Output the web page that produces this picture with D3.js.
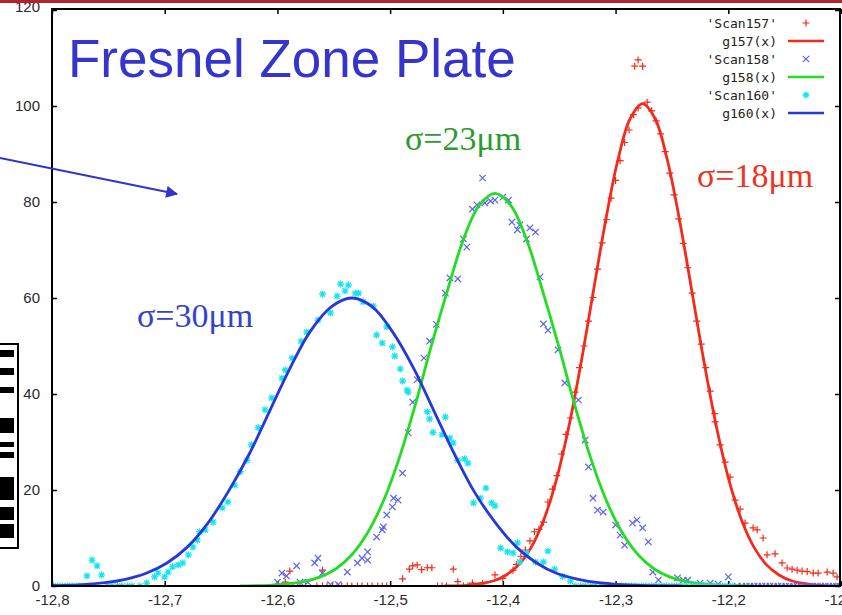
<!DOCTYPE html>
<html>
<head>
<meta charset="utf-8">
<title>Fresnel Zone Plate scans</title>
<script src="https://d3js.org/d3.v7.min.js"></script>
<style>
  body { margin: 0; background: #fff; }
  svg { display: block; }
  .tick text { font-family: 'Liberation Sans', Arial, sans-serif; font-size: 15px; fill: #2a2a2a; }
  .legend text { font-family: 'DejaVu Sans Mono', monospace; font-size: 13px; fill: #222; }
</style>
</head>
<body>
<div id="chart"></div>
<script>
// ---- data ----
const xTicks = [-12.8, -12.7, -12.6, -12.5, -12.4, -12.3, -12.2, -12.1];
const yTicks = [0, 20, 40, 60, 80, 100, 120];

const legendLabels = ["'Scan157'", "g157(x)", "'Scan158'", "g158(x)", "'Scan160'", "g160(x)"];
const sigmaLabels = ["σ=18μm", "σ=23μm", "σ=30μm"];

// Scan157 (red +)
const scan157 = [
  [-12.600,0],[-12.596,0],[-12.592,0],[-12.586,0],[-12.580,0],[-12.575,0],[-12.565,0],[-12.560,0],
  [-12.556,0],[-12.551,0],[-12.547,0],[-12.543,0],[-12.538,0],[-12.534,0],[-12.529,0],[-12.525,0],
  [-12.520,0],[-12.516,0],[-12.511,0],[-12.507,0],[-12.503,0],[-12.458,0],[-12.454,0],[-12.450,0],
  [-12.435,0],[-12.431,0],[-12.426,0],[-12.422,0],[-12.418,0],
  [-12.593,0.8],[-12.589,3.1],[-12.560,3.3],[-12.489,1.5],[-12.483,3.5],[-12.480,4.2],[-12.476,4.4],
  [-12.472,3.4],[-12.467,3.8],[-12.463,3.8],[-12.444,3.5],[-12.440,0.9],[-12.427,0.6],[-12.418,0.5],
  [-12.407,2.3],[-12.400,1.6],[-12.391,3.3],
  [-12.388,4.5],[-12.384,6.2],[-12.380,7.5],[-12.376,9.4],[-12.372,11.3],[-12.368,11.8],[-12.364,13.3],
  [-12.360,17.5],[-12.356,20.2],[-12.352,23.0],[-12.348,27.5],[-12.344,31.6],[-12.340,35.0],[-12.336,40.4],
  [-12.332,45.5],[-12.328,50.0],[-12.324,55.2],[-12.320,60.1],[-12.316,66.0],[-12.312,71.5],[-12.308,76.3],
  [-12.304,80.8],[-12.300,84.5],[-12.296,88.6],[-12.292,92.4],[-12.288,95.0],[-12.284,98.2],[-12.280,99.6],
  [-12.280,109.6],[-12.283,108.3],[-12.276,108.3],
  [-12.272,100.8],[-12.268,99.0],[-12.264,96.9],[-12.260,94.2],[-12.256,90.5],[-12.252,86.0],[-12.248,81.5],
  [-12.244,76.5],[-12.240,71.4],[-12.236,66.3],[-12.232,61.0],[-12.228,55.2],[-12.224,50.4],[-12.220,45.5],
  [-12.216,40.6],[-12.212,35.9],
  [-12.2117,34.2],[-12.2073,29.4],[-12.2028,25.8],[-12.1984,22.7],[-12.194,17.9],[-12.1895,16.0],
  [-12.1851,13.1],[-12.178,12.1],[-12.1744,11.7],[-12.1691,10.0],[-12.1656,6.5],[-12.1585,6.7],
  [-12.1523,4.8],[-12.1478,3.75],[-12.1434,3.5],[-12.1389,3.3],[-12.1345,3.1],[-12.130,3.0],
  [-12.1247,2.7],[-12.1203,2.7],[-12.1123,2.9],[-12.107,2.7],[-12.1035,1.9]
];

// Scan158 (blue x)
const scan158 = [
  [-12.600,0.8],[-12.596,2.7],[-12.592,2.1],[-12.583,4.2],[-12.580,0.8],[-12.573,0.8],[-12.567,4.8],
  [-12.564,5.8],[-12.560,2.7],[-12.553,0.3],[-12.546,0.3],[-12.538,2.9],[-12.529,4.8],[-12.525,5.8],
  [-12.520,7.1],[-12.520,5.4],[-12.512,10.2],[-12.507,11.7],[-12.506,12.3],[-12.503,14.8],[-12.498,16.5],
  [-12.497,18.3],[-12.493,17.9],[-12.489,23.5],[-12.484,31.9],[-12.480,38.3],[-12.476,43.0],[-12.470,47.5],
  [-12.465,51.0],[-12.459,54.5],[-12.451,61.0],[-12.447,64.2],[-12.440,64.0],[-12.435,72.3],[-12.432,70.6],
  [-12.427,78.5],[-12.423,79.4],[-12.418,85.0],[-12.416,79.8],[-12.411,80.2],[-12.407,80.4],[-12.400,81.0],
  [-12.395,80.4],[-12.392,75.8],[-12.387,74.2],[-12.385,75.2],[-12.379,72.3],[-12.376,74.6],[-12.371,73.7],
  [-12.367,64.4],[-12.364,54.6],[-12.360,53.3],[-12.351,49.2],[-12.345,42.3],[-12.333,38.75],[-12.327,30.4],
  [-12.324,24.8],[-12.320,18.3],[-12.316,15.8],[-12.311,15.4],[-12.300,12.7],[-12.296,10.6],[-12.292,8.5],
  [-12.285,13.1],[-12.281,13.75],[-12.276,12.1],[-12.271,9.2],[-12.267,2.9],[-12.262,1.25],[-12.245,1.7],
  [-12.240,1.2],[-12.236,1.2],[-12.225,0.6],[-12.216,0.6],[-12.209,0.4],[-12.200,1.9],
  [-12.192,0],[-12.188,0],[-12.184,0],[-12.181,0],[-12.177,0],[-12.174,0],[-12.170,0],[-12.167,0],
  [-12.163,0],[-12.160,0],[-12.156,0],[-12.153,0],[-12.149,0],[-12.146,0],[-12.142,0],[-12.139,0],
  [-12.135,0],[-12.132,0],[-12.128,0],[-12.125,0],[-12.121,0],[-12.118,0],[-12.114,0],[-12.111,0],
  [-12.107,0],[-12.104,0],[-12.101,0]
];

// Scan160 (cyan *)
const scan160 = [
  [-12.799,0],[-12.795,0],[-12.791,0],[-12.786,0],[-12.782,0],[-12.776,0],
  [-12.751,0],[-12.747,0],[-12.742,0],[-12.738,0],[-12.733,0],[-12.729,0],[-12.722,0],
  [-12.769,2.1],[-12.7645,5.4],[-12.760,4.2],[-12.756,2.3],[-12.716,0.6],[-12.709,1.9],[-12.706,2.7],
  [-12.700,1.9],[-12.697,2.9],[-12.693,4.0],[-12.688,4.4],[-12.684,4.8],[-12.679,6.5],[-12.675,8.1],
  [-12.671,9.6],[-12.669,11.3],[-12.664,11.7],[-12.657,13.3],[-12.649,16.3],[-12.644,17.5],[-12.638,21.0],
  [-12.633,23.8],[-12.627,26.2],[-12.623,29.4],[-12.617,33.0],[-12.611,36.7],[-12.605,39.2],[-12.596,43.3],
  [-12.593,45.0],[-12.587,47.5],[-12.579,51.0],[-12.574,52.9],[-12.564,55.4],[-12.553,56.9],[-12.560,60.8],
  [-12.547,60.4],[-12.544,62.9],[-12.540,61.5],[-12.537,62.7],[-12.531,61.0],[-12.528,61.0],[-12.524,59.2],
  [-12.515,58.3],[-12.512,52.3],[-12.507,50.6],[-12.503,54.0],[-12.498,49.8],[-12.496,47.9],[-12.491,45.2],
  [-12.489,42.7],[-12.485,40.8],[-12.484,40.4],[-12.467,36.3],[-12.465,34.8],[-12.462,32.0],[-12.454,31.5],
  [-12.451,35.2],[-12.447,30.8],[-12.444,29.8],[-12.440,26.2],[-12.434,26.5],[-12.431,25.6],[-12.426,17.3],
  [-12.420,18.3],[-12.415,20.4],[-12.410,17.3],[-12.407,16.7],[-12.402,7.9],[-12.396,7.1],[-12.391,6.9],
  [-12.387,9.0],[-12.385,5.0],[-12.379,6.9],[-12.371,5.0],[-12.364,5.0],[-12.360,7.3],[-12.354,3.5],
  [-12.347,2.0],[-12.340,1.0],
  [-12.336,0],[-12.331,0],[-12.327,0],[-12.322,0],[-12.318,0],[-12.313,0],[-12.309,0],[-12.304,0],
  [-12.300,0],[-12.295,0],[-12.291,0],[-12.286,0],[-12.282,0],[-12.277,0],[-12.273,0],[-12.268,0],
  [-12.264,0],[-12.259,0],[-12.255,0],[-12.250,0],[-12.246,0],[-12.241,0],[-12.237,0],[-12.232,0],
  [-12.228,0],[-12.223,0],[-12.219,0],[-12.214,0],[-12.210,0],[-12.205,0],[-12.201,0],[-12.196,0]
];

// fitted curves
const g157 = [
  [-12.452,0.0],[-12.430,0.2],[-12.408,1.1],[-12.397,2.3],[-12.386,4.4],[-12.375,8.0],[-12.364,13.6],
  [-12.353,21.7],[-12.342,32.6],[-12.331,46.0],[-12.320,61.0],[-12.309,75.9],[-12.298,88.7],[-12.287,97.4],
  [-12.276,100.5],[-12.265,97.4],[-12.254,88.7],[-12.243,75.9],[-12.232,61.0],[-12.221,46.0],[-12.210,32.6],
  [-12.199,21.7],[-12.188,13.6],[-12.177,8.0],[-12.166,4.4],[-12.155,2.3],[-12.144,1.1],[-12.122,0.2],[-12.100,0.0]
];
const g158 = [
  [-12.633,0.0],[-12.605,0.2],[-12.577,0.9],[-12.562,1.9],[-12.548,3.6],[-12.534,6.5],[-12.520,11.1],
  [-12.506,17.7],[-12.492,26.6],[-12.478,37.5],[-12.464,49.6],[-12.449,61.7],[-12.435,72.2],[-12.421,79.3],
  [-12.407,81.8],[-12.393,79.3],[-12.379,72.2],[-12.365,61.7],[-12.350,49.6],[-12.336,37.5],[-12.322,26.6],
  [-12.308,17.7],[-12.294,11.1],[-12.280,6.5],[-12.266,3.6],[-12.252,1.9],[-12.237,0.9],[-12.209,0.2],[-12.181,0.0]
];
const g160 = [
  [-12.800,0.1],[-12.790,0.1],[-12.753,0.7],[-12.735,1.4],[-12.717,2.6],[-12.698,4.8],[-12.680,8.1],
  [-12.662,13.0],[-12.644,19.5],[-12.625,27.5],[-12.607,36.4],[-12.589,45.3],[-12.571,53.0],[-12.552,58.2],
  [-12.534,60.0],[-12.516,58.2],[-12.498,53.0],[-12.479,45.3],[-12.461,36.4],[-12.443,27.5],[-12.425,19.5],
  [-12.406,13.0],[-12.388,8.1],[-12.370,4.8],[-12.352,2.6],[-12.333,1.4],[-12.315,0.7],[-12.279,0.1],[-12.242,0.0]
];

// ---- layout ----
const W = 842, H = 615;
const plot = {left: 52, right: 840, top: 9, bottom: 586};

const svg = d3.select("#chart").append("svg")
    .attr("width", W)
    .attr("height", H);

const x = d3.scaleLinear().domain([-12.8, -12.1]).range([plot.left, 841]);
const y = d3.scaleLinear().domain([0, 120]).range([plot.bottom, 10]);

svg.append("clipPath").attr("id", "clip")
  .append("rect")
    .attr("x", plot.left).attr("y", plot.top)
    .attr("width", plot.right - plot.left).attr("height", plot.bottom - plot.top);

const fmt = d => d === 0 ? "0" : (d % 1 === 0 ? String(d) : d.toFixed(1).replace(".", ","));

// axes with inward ticks (gnuplot style, mirrored)
const xAxis = svg.append("g")
    .attr("transform", "translate(0," + plot.bottom + ")")
    .call(d3.axisBottom(x).tickValues(xTicks).tickSizeInner(-5).tickSizeOuter(0).tickPadding(10).tickFormat(fmt));
const xAxisTop = svg.append("g")
    .attr("transform", "translate(0," + plot.top + ")")
    .call(d3.axisTop(x).tickValues(xTicks).tickSizeInner(-5).tickSizeOuter(0).tickFormat(""));
const yAxis = svg.append("g")
    .attr("transform", "translate(" + plot.left + ",0)")
    .call(d3.axisLeft(y).tickValues(yTicks).tickSizeInner(-5).tickSizeOuter(0).tickPadding(12).tickFormat(fmt));
const yAxisRight = svg.append("g")
    .attr("transform", "translate(" + plot.right + ",0)")
    .call(d3.axisRight(y).tickValues(yTicks).tickSizeInner(-5).tickSizeOuter(0).tickFormat(""));

[xAxis, xAxisTop, yAxis, yAxisRight].forEach(a => {
  a.select(".domain").remove();
  a.selectAll(".tick line").attr("stroke", "#000").attr("stroke-width", 1.5);
});
xAxis.selectAll(".tick text").attr("dy", "0.62em");
// top label sits under the slide header, as in the screenshot
yAxis.selectAll(".tick text").filter(d => d === 120).attr("dy", "0.1em");

const plotArea = svg.append("g").attr("clip-path", "url(#clip)");

// marker shapes
const markPlus = "M-3.5,0H3.5M0,-3.5V3.5";
const markCross = "M-3.2,-3.2L3.2,3.2M-3.2,3.2L3.2,-3.2";
const markStar = "M-3.5,0H3.5M0,-3.5V3.5M-2.6,-2.6L2.6,2.6M-2.6,2.6L2.6,-2.6";

const line = d3.line()
    .x(d => x(d[0]))
    .y(d => y(d[1]))
    .curve(d3.curveCatmullRom.alpha(0.5));

function drawPoints(data, shape, color, width) {
  plotArea.append("g").selectAll("path")
    .data(data)
    .enter().append("path")
      .attr("d", shape)
      .attr("transform", d => "translate(" + x(d[0]) + "," + y(d[1]) + ")")
      .attr("fill", "none")
      .attr("stroke", color)
      .attr("stroke-width", width);
}
function drawCurve(data, color) {
  plotArea.append("path")
    .datum(data)
    .attr("d", line)
    .attr("fill", "none")
    .attr("stroke", color)
    .attr("stroke-width", 2.8);
}

const cRed = "#f42a1c", cGreen = "#22dd22", cBlue = "#2438dc";
const cBlueMark = "#5a62f0", cCyan = "#18e4f0";

drawPoints(scan157, markPlus, cRed, 1.2);
drawCurve(g157, cRed);
drawPoints(scan158, markCross, cBlueMark, 1.2);
drawCurve(g158, cGreen);
drawPoints(scan160, markStar, cCyan, 1.3);
drawCurve(g160, cBlue);

// border box
svg.append("rect")
    .attr("x", plot.left).attr("y", plot.top)
    .attr("width", plot.right - plot.left).attr("height", plot.bottom - plot.top)
    .attr("fill", "none")
    .attr("stroke", "#000")
    .attr("stroke-width", 2);

// legend
const legend = svg.append("g").attr("class", "legend");
const legendKinds = [
  {shape: markPlus, color: cRed, w: 1.2},
  {line: true, color: cRed},
  {shape: markCross, color: cBlueMark, w: 1.2},
  {line: true, color: cGreen},
  {shape: markStar, color: cCyan, w: 1.3},
  {line: true, color: cBlue}
];
legendLabels.forEach((lab, i) => {
  const ly = 23 + i * 18;
  legend.append("text")
      .attr("x", 777).attr("y", ly)
      .attr("dy", "0.35em")
      .attr("text-anchor", "end")
      .text(lab);
  const k = legendKinds[i];
  if (k.line) {
    legend.append("line")
        .attr("x1", 788).attr("x2", 824).attr("y1", ly).attr("y2", ly)
        .attr("stroke", k.color).attr("stroke-width", 2.6);
  } else {
    legend.append("path")
        .attr("d", k.shape)
        .attr("transform", "translate(806," + ly + ")")
        .attr("fill", "none").attr("stroke", k.color).attr("stroke-width", k.w);
  }
});

// slide overlay: title, sigma notes, arrow, side box, header strip
svg.append("text")
    .attr("x", 68).attr("y", 77)
    .attr("font-family", "'Liberation Sans', Arial, sans-serif")
    .attr("font-size", 53)
    .attr("fill", "#3535cc")
    .text("Fresnel Zone Plate");

const sigmaPos = [[697, 187, "#ee3322"], [405, 150, "#2f9a2f"], [137, 327, "#3344cc"]];
sigmaLabels.forEach((s, i) => {
  svg.append("text")
      .attr("x", sigmaPos[i][0]).attr("y", sigmaPos[i][1])
      .attr("font-family", "'Liberation Serif', 'Times New Roman', serif")
      .attr("font-size", 34)
      .attr("fill", sigmaPos[i][2])
      .text(s);
});

svg.append("defs").append("marker")
    .attr("id", "arrow")
    .attr("viewBox", "0 0 10 10")
    .attr("refX", 9).attr("refY", 5)
    .attr("markerWidth", 8).attr("markerHeight", 6)
    .attr("markerUnits", "strokeWidth")
    .attr("orient", "auto")
  .append("path")
    .attr("d", "M0,0L10,5L0,10z")
    .attr("fill", "#3333cc");
svg.append("line")
    .attr("x1", 0).attr("y1", 158)
    .attr("x2", 177).attr("y2", 194)
    .attr("stroke", "#3333cc")
    .attr("stroke-width", 2)
    .attr("marker-end", "url(#arrow)");

const box = svg.append("g");
box.append("rect")
    .attr("x", -3).attr("y", 344)
    .attr("width", 21).attr("height", 204)
    .attr("fill", "#fff").attr("stroke", "#000").attr("stroke-width", 2);
[[350, 7], [368, 7], [387, 6], [418, 15], [442, 5], [452, 6], [477, 23], [507, 13], [524, 14]]
  .forEach(b => box.append("rect")
      .attr("x", 0).attr("y", b[0]).attr("width", 14).attr("height", b[1]).attr("fill", "#000"));

svg.append("rect")
    .attr("x", 0).attr("y", 0).attr("width", W).attr("height", 3)
    .attr("fill", "#b3222e");
</script>
</body>
</html>
